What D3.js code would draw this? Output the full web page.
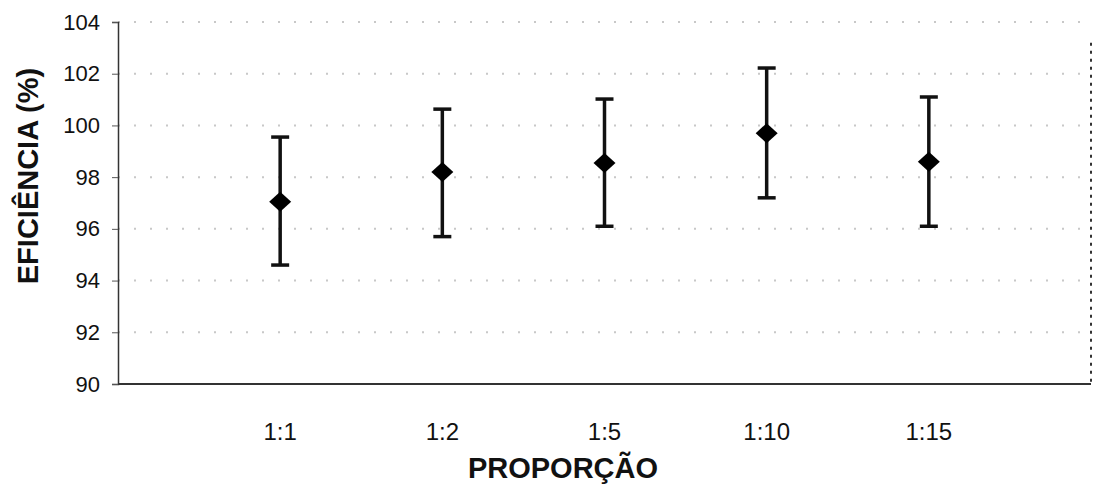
<!DOCTYPE html>
<html>
<head>
<meta charset="utf-8">
<script src="https://cdn.jsdelivr.net/npm/d3@7"></script>
<style>
  body { margin: 0; background: #fff; }
  text { font-family: "Liberation Sans", Arial, sans-serif; fill: #111; }
</style>
</head>
<body>
<div id="chart"></div>
<script>
// categories and values
var proporcao = ["1:1", "1:2", "1:5", "1:10", "1:15"];
var eficiencia = [97.05, 98.2, 98.55, 99.7, 98.6];
var erroSup = [99.55, 100.63, 101.02, 102.22, 101.1];
var erroInf = [94.6, 95.7, 96.1, 97.2, 96.1];
var yTicks = [90, 92, 94, 96, 98, 100, 102, 104];

var width = 1109, height = 486;
var plotLeft = 118, plotRight = 1091, plotTop = 22, plotBottom = 384;

var svg = d3.select("#chart").append("svg")
    .attr("width", width)
    .attr("height", height);

// x: slots 0..6, categories sit on 1..5 (empty slot at the right end)
var x = d3.scaleLinear().domain([0, 6]).range([plotLeft, plotRight]);
var y = d3.scaleLinear().domain([90, 104]).range([plotBottom, plotTop]);

// faint dotted grid lines (the scan shows them as sparse dots)
svg.append("g").selectAll("line")
    .data(yTicks.slice(1))
    .enter().append("line")
    .attr("x1", plotLeft).attr("x2", plotRight)
    .attr("y1", function (d) { return y(d); })
    .attr("y2", function (d) { return y(d); })
    .style("stroke", "#c8c8c8")
    .style("stroke-width", 2)
    .style("stroke-dasharray", "2,14");

// y axis
var yAxis = d3.axisLeft(y).tickValues(yTicks).tickSize(6).tickPadding(12);
var gy = svg.append("g").attr("transform", "translate(" + plotLeft + ",0)").call(yAxis);
gy.select(".domain").style("stroke", "#333").style("stroke-width", 1.5);
gy.selectAll(".tick line").style("stroke", "#555");
gy.selectAll("text")
    .style("font-size", "22px")
    .style("font-family", "Liberation Sans, Arial, sans-serif")
    .style("fill", "#111");

// x axis line
svg.append("line")
    .attr("x1", plotLeft).attr("x2", plotRight)
    .attr("y1", plotBottom).attr("y2", plotBottom)
    .style("stroke", "#333")
    .style("stroke-width", 2);

// right edge, dotted
svg.append("line")
    .attr("x1", plotRight).attr("x2", plotRight)
    .attr("y1", y(103.2)).attr("y2", plotBottom)
    .style("stroke", "#333")
    .style("stroke-width", 2)
    .style("stroke-dasharray", "3,5");

// x tick labels
svg.selectAll(".xlab")
    .data(proporcao)
    .enter().append("text")
    .attr("class", "xlab")
    .attr("x", function (d, i) { return x(i + 1); })
    .attr("y", 440)
    .attr("text-anchor", "middle")
    .style("font-size", "24px")
    .text(function (d) { return d; });

// error bars
var g = svg.append("g");
g.selectAll(".eb")
    .data(proporcao)
    .enter().append("line")
    .attr("x1", function (d, i) { return x(i + 1); })
    .attr("x2", function (d, i) { return x(i + 1); })
    .attr("y1", function (d, i) { return y(erroSup[i]); })
    .attr("y2", function (d, i) { return y(erroInf[i]); })
    .style("stroke", "#111")
    .style("stroke-width", 3.5);

[erroSup, erroInf].forEach(function (arr) {
  g.selectAll(null)
      .data(proporcao)
      .enter().append("line")
      .attr("x1", function (d, i) { return x(i + 1) - 9; })
      .attr("x2", function (d, i) { return x(i + 1) + 9; })
      .attr("y1", function (d, i) { return y(arr[i]); })
      .attr("y2", function (d, i) { return y(arr[i]); })
      .style("stroke", "#111")
      .style("stroke-width", 3.5);
});

// diamond markers
g.selectAll(".pt")
    .data(proporcao)
    .enter().append("path")
    .attr("transform", function (d, i) {
      return "translate(" + x(i + 1) + "," + y(eficiencia[i]) + ")";
    })
    .attr("d", "M0,-10L11,0L0,10L-11,0Z")
    .style("fill", "#000");

// axis titles
svg.append("text")
    .attr("x", 563)
    .attr("y", 478)
    .attr("text-anchor", "middle")
    .style("font-size", "29px")
    .style("font-weight", "bold")
    .text("PROPORÇÃO");

svg.append("text")
    .attr("transform", "translate(38,176) rotate(-90)")
    .attr("text-anchor", "middle")
    .style("font-size", "29px")
    .style("font-weight", "bold")
    .text("EFICIÊNCIA (%)");
</script>
</body>
</html>
